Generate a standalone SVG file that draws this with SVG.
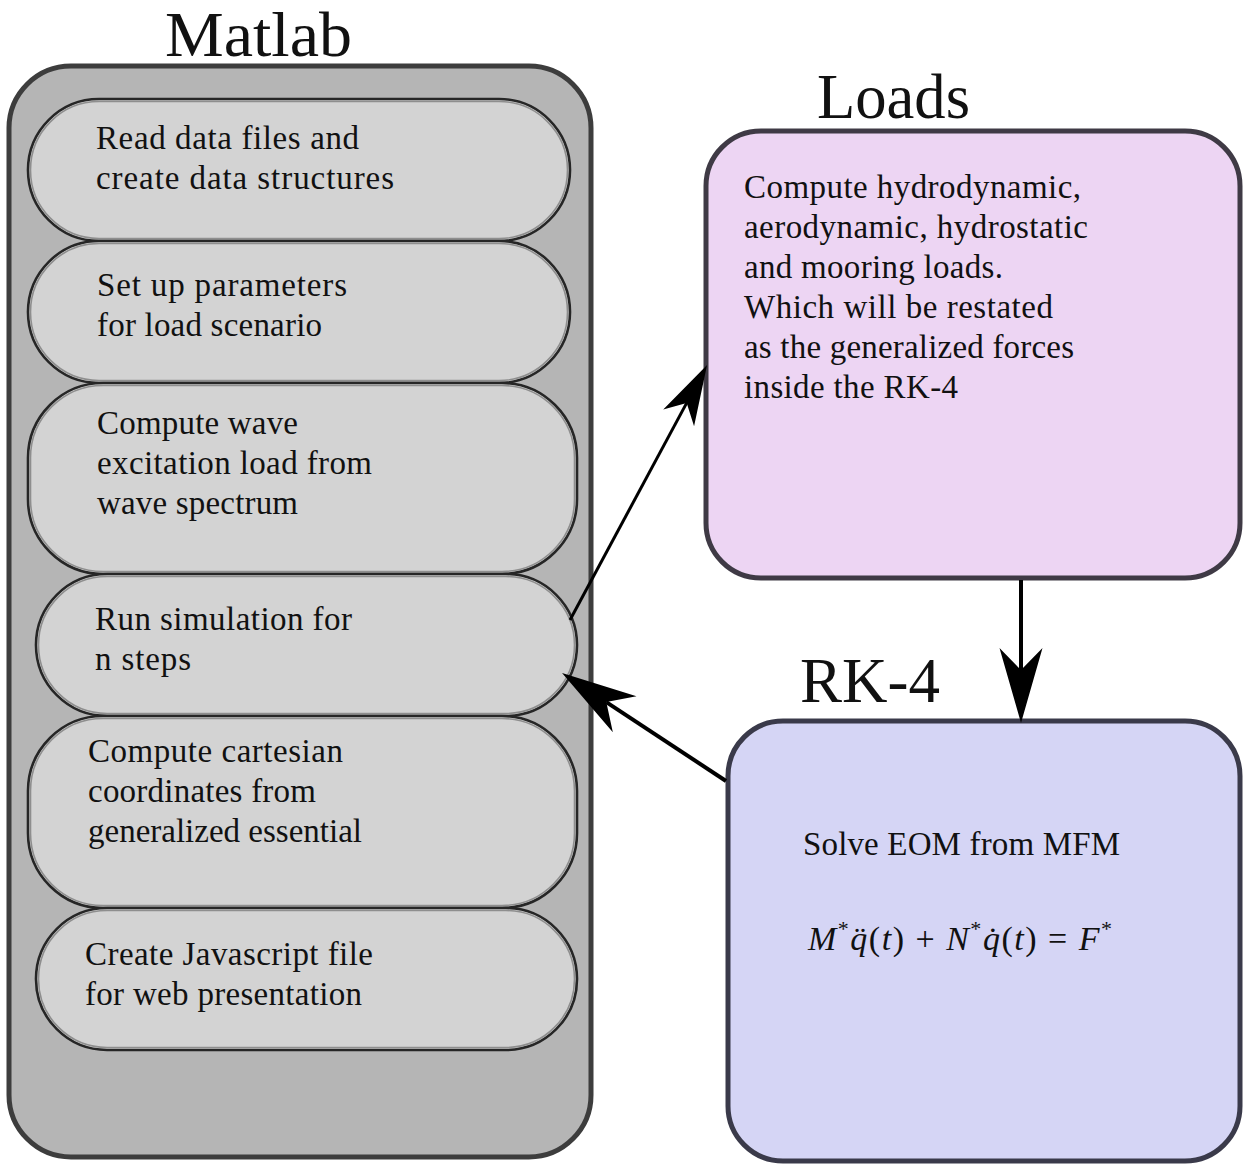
<svg xmlns="http://www.w3.org/2000/svg" width="1243" height="1165" viewBox="0 0 1243 1165">
<style>
text{font-family:"Liberation Serif","DejaVu Serif",serif;fill:#111}
.t{font-size:33px}
.title{font-size:64px}
.pill{fill:#d3d3d3;stroke:#262626;stroke-width:2.6}
.pin{fill:none;stroke:#8e8e8e;stroke-width:1.6}
.conn{stroke:#000;fill:none}
.eq{font-size:34px;font-style:italic}
</style>
<defs>
<marker id="headL" viewBox="-78 -24 80 48" refX="-53" refY="0" markerWidth="80" markerHeight="48" markerUnits="userSpaceOnUse" orient="auto">
<path d="M0,0 L-75,-21.5 L-53,0 L-75,21.5 Z" fill="#000"/>
</marker>
<marker id="headS" viewBox="-63 -20 65 40" refX="-43" refY="0" markerWidth="65" markerHeight="40" markerUnits="userSpaceOnUse" orient="auto">
<path d="M0,0 L-60,-17.5 L-43,0 L-60,17.5 Z" fill="#000"/>
</marker>
</defs>
<rect width="1243" height="1165" fill="#fff"/>

<g id="matlab">
<text class="title" x="165" y="56" textLength="187" lengthAdjust="spacingAndGlyphs">Matlab</text>
<rect x="9" y="66" width="582" height="1091" rx="62" fill="#b5b5b5" stroke="#3d3d3d" stroke-width="5"/>
</g>

<g id="step1">
<rect class="pill" x="28" y="99" width="542" height="142" rx="71"/>
<rect class="pin" x="30.5" y="101.5" width="537" height="137" rx="68.5"/>
<text class="t" x="96" y="149" textLength="263" lengthAdjust="spacing">Read data files and</text>
<text class="t" x="96" y="189" textLength="298" lengthAdjust="spacing">create data structures</text>
</g>

<g id="step2">
<rect class="pill" x="28" y="241" width="542" height="142" rx="71"/>
<rect class="pin" x="30.5" y="243.5" width="537" height="137" rx="68.5"/>
<text class="t" x="97" y="296" textLength="250" lengthAdjust="spacing">Set up parameters</text>
<text class="t" x="97" y="336" textLength="225" lengthAdjust="spacing">for load scenario</text>
</g>

<g id="step3">
<rect class="pill" x="28" y="383" width="549" height="191" rx="75"/>
<rect class="pin" x="30.5" y="385.5" width="544" height="186" rx="72.5"/>
<text class="t" x="97" y="434" textLength="201" lengthAdjust="spacing">Compute wave</text>
<text class="t" x="97" y="474" textLength="275" lengthAdjust="spacing">excitation load from</text>
<text class="t" x="97" y="514" textLength="201" lengthAdjust="spacing">wave spectrum</text>
</g>

<g id="step4">
<rect class="pill" x="36" y="574" width="541" height="142" rx="71"/>
<rect class="pin" x="38.5" y="576.5" width="536" height="137" rx="68.5"/>
<text class="t" x="95" y="630" textLength="257" lengthAdjust="spacing">Run simulation for</text>
<text class="t" x="95" y="670" textLength="96" lengthAdjust="spacing">n steps</text>
</g>

<g id="step5">
<rect class="pill" x="28" y="716" width="549" height="192" rx="75"/>
<rect class="pin" x="30.5" y="718.5" width="544" height="187" rx="72.5"/>
<text class="t" x="88" y="762" textLength="255" lengthAdjust="spacing">Compute cartesian</text>
<text class="t" x="88" y="802" textLength="228" lengthAdjust="spacing">coordinates from</text>
<text class="t" x="88" y="842" textLength="274" lengthAdjust="spacing">generalized essential</text>
</g>

<g id="step6">
<rect class="pill" x="36" y="908" width="541" height="142" rx="71"/>
<rect class="pin" x="38.5" y="910.5" width="536" height="137" rx="68.5"/>
<text class="t" x="85" y="965" textLength="288" lengthAdjust="spacing">Create Javascript file</text>
<text class="t" x="85" y="1005" textLength="277" lengthAdjust="spacing">for web presentation</text>
</g>

<g id="loads">
<text class="title" x="817" y="118" textLength="153" lengthAdjust="spacingAndGlyphs">Loads</text>
<rect x="706" y="131" width="534" height="447" rx="55" fill="#edd5f3" stroke="#3f3a45" stroke-width="5"/>
<text class="t" x="744" y="198" textLength="337" lengthAdjust="spacing">Compute hydrodynamic,</text>
<text class="t" x="744" y="238" textLength="344" lengthAdjust="spacing">aerodynamic, hydrostatic</text>
<text class="t" x="744" y="278" textLength="259" lengthAdjust="spacing">and mooring loads.</text>
<text class="t" x="744" y="318" textLength="309" lengthAdjust="spacing">Which will be restated</text>
<text class="t" x="744" y="358" textLength="330" lengthAdjust="spacing">as the generalized forces</text>
<text class="t" x="744" y="398" textLength="214" lengthAdjust="spacing">inside the RK-4</text>
</g>

<g id="rk4">
<text class="title" x="800" y="702" textLength="140" lengthAdjust="spacingAndGlyphs">RK-4</text>
<rect x="728" y="721" width="512" height="440" rx="55" fill="#d5d5f5" stroke="#3a3a4a" stroke-width="5"/>
<text class="t" x="803" y="855" textLength="317" lengthAdjust="spacing">Solve EOM from MFM</text>
<text class="eq" x="808" y="950" textLength="304" lengthAdjust="spacing">M<tspan font-style="normal" font-size="22" dy="-14">*</tspan><tspan dy="14">q̈</tspan><tspan font-style="normal">(</tspan>t<tspan font-style="normal">) + </tspan>N<tspan font-style="normal" font-size="22" dy="-14">*</tspan><tspan dy="14">q̇</tspan><tspan font-style="normal">(</tspan>t<tspan font-style="normal">) = </tspan>F<tspan font-style="normal" font-size="22" dy="-14">*</tspan></text>
</g>

<g id="connectors">
<line class="conn" x1="570" y1="620" x2="686.7" y2="402.9" stroke-width="3" marker-end="url(#headS)"/>
<line class="conn" x1="726" y1="781" x2="606.3" y2="702.1" stroke-width="4" marker-end="url(#headL)"/>
<line class="conn" x1="1021" y1="580" x2="1021" y2="670" stroke-width="4" marker-end="url(#headL)"/>
</g>
</svg>
